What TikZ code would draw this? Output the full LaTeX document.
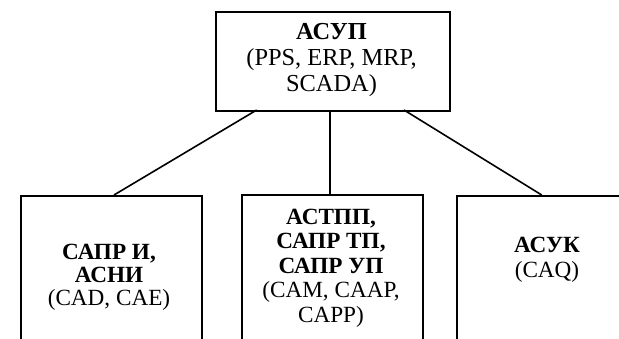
\documentclass[tikz,border=0pt]{standalone}
\usepackage{fontspec}
\setmainfont{Liberation Serif}
\begin{document}
\begin{tikzpicture}[x=0.75pt,y=-0.75pt,
  box/.style={draw=black,line width=1.6pt,fill=none,inner sep=0pt},
  link/.style={draw=black,line width=1.2pt},
  lbl/.style={align=center,inner sep=0pt,text=black}]
\useasboundingbox (0,0) rectangle (619,339);
\clip (0,0) rectangle (619,339);
% boxes (the lower row runs off the bottom and right edges)
\node[box,minimum width=234*0.75pt,minimum height=99*0.75pt,anchor=north west] (top) at (215,11) {};
\node[box,minimum width=181*0.75pt,minimum height=180*0.75pt,anchor=north west] (cad) at (20,195) {};
\node[box,minimum width=181*0.75pt,minimum height=180*0.75pt,anchor=north west] (cam) at (240.5,194) {};
\node[box,minimum width=181*0.75pt,minimum height=180*0.75pt,anchor=north west] (caq) at (456,195) {};
% connector end points on the box edges
\coordinate (t1) at (256.7,110);
\coordinate (t2) at (330,110);
\coordinate (t3) at (404,110);
\coordinate (b1) at (114,195);
\coordinate (b2) at (330,194);
\coordinate (b3) at (541.7,195);
\draw[link] (t1) -- (b1);
\draw[link] (t2) -- (b2);
\draw[link] (t3) -- (b3);
% labels
\node[lbl,font=\fontsize{18.3pt}{19.5pt}\selectfont] (ttop) at (331.5,60)
  {\textbf{АСУП}\\(PPS, ERP, MRP,\\SCADA)};
\node[lbl,font=\fontsize{17.4pt}{17.4pt}\selectfont] (tcad) at (109,277)
  {\textbf{САПР И,}\\\textbf{АСНИ}\\(CAD, CAE)};
\node[lbl,font=\fontsize{17.4pt}{18.4pt}\selectfont] (tcam) at (331,268)
  {\textbf{АСТПП,}\\\textbf{САПР ТП,}\\\textbf{САПР УП}\\(CAM, CAAP,\\CAPP)};
\node[lbl,font=\fontsize{17.4pt}{18.75pt}\selectfont] (tcaq) at (547,259.5)
  {\textbf{АСУК}\\(CAQ)};
\end{tikzpicture}
\end{document}
